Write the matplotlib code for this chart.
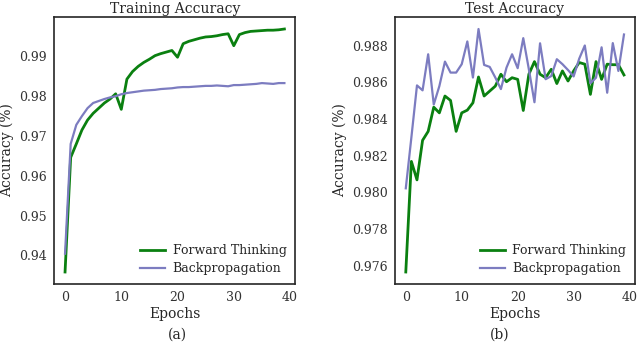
import matplotlib

matplotlib.use("Agg")

import matplotlib.pyplot as plt
import numpy as np


EPOCHS: list[int] = list(range(40))

TRAIN_FORWARD: list[float] = [
    0.9358, 0.9646, 0.9680, 0.9715, 0.9740, 0.9757, 0.9770, 0.9783, 0.9793, 0.9806,
    0.9767, 0.9843, 0.9862, 0.9875, 0.9885, 0.9893, 0.9902, 0.9907, 0.9911, 0.9915,
    0.9898, 0.9932, 0.9938, 0.9942, 0.9946, 0.9949, 0.9950, 0.9952, 0.9955, 0.9957,
    0.9927, 0.9955, 0.9960, 0.9963, 0.9964, 0.9965, 0.9966, 0.9966, 0.9967, 0.9969,
]

TRAIN_BACKPROP: list[float] = [
    0.9404, 0.9680, 0.9728, 0.9750, 0.9770, 0.9783, 0.9788, 0.9793, 0.9797, 0.9800,
    0.9805, 0.9808, 0.9810, 0.9812, 0.9814, 0.9815, 0.9816, 0.9818, 0.9819, 0.9820,
    0.9822, 0.9823, 0.9823, 0.9824, 0.9825, 0.9826, 0.9826, 0.9827, 0.9826, 0.9825,
    0.9828, 0.9828, 0.9829, 0.9830, 0.9831, 0.9833, 0.9832, 0.9831, 0.9833, 0.9833,
]

TEST_FORWARD: list[float] = [
    0.97565, 0.98169, 0.98068, 0.98284, 0.98333, 0.98465, 0.98434, 0.98526, 0.98502, 0.98333,
    0.98434, 0.98449, 0.98489, 0.98630, 0.98526, 0.98553, 0.98580, 0.98645, 0.98604, 0.98626,
    0.98617, 0.98447, 0.98645, 0.98714, 0.98645, 0.98626, 0.98672, 0.98594, 0.98663, 0.98608,
    0.98663, 0.98709, 0.98700, 0.98535, 0.98714, 0.98617, 0.98700, 0.98697, 0.98697, 0.98641,
]

TEST_BACKPROP: list[float] = [
    0.98022, 0.98300, 0.98584, 0.98557, 0.98754, 0.98480, 0.98580, 0.98714, 0.98654, 0.98654,
    0.98700, 0.98824, 0.98627, 0.98892, 0.98696, 0.98685, 0.98627, 0.98564, 0.98681, 0.98754,
    0.98678, 0.98842, 0.98672, 0.98492, 0.98814, 0.98618, 0.98635, 0.98727, 0.98700, 0.98668,
    0.98633, 0.98730, 0.98802, 0.98596, 0.98626, 0.98792, 0.98544, 0.98815, 0.98663, 0.98862,
]

FORWARD_COLOR = "#0a8010"
BACKPROP_COLOR = "#7c7cc0"


def plot_panel(ax, forward, backprop, title: str) -> None:
    ax.plot(EPOCHS, forward, color=FORWARD_COLOR, lw=2.0, label="Forward Thinking")
    ax.plot(EPOCHS, backprop, color=BACKPROP_COLOR, lw=1.6, label="Backpropagation")

    ax.set_title(title, fontsize=10, pad=3)
    ax.set_xlabel("Epochs", fontsize=10, labelpad=2)
    ax.set_ylabel("Accuracy (%)", fontsize=10, labelpad=4)
    ax.set_xticks([0, 10, 20, 30, 40])
    ax.tick_params(length=0, labelsize=9, pad=5, colors="#333333")

    for spine in ax.spines.values():
        spine.set_color("#262626")
        spine.set_linewidth(1.2)

    ax.legend(loc="lower right", frameon=False, fontsize=9,
              handlelength=2.0, handletextpad=0.6,
              borderaxespad=0.3, labelspacing=0.4)


def main() -> None:
    plt.rcParams["font.family"] = "serif"
    plt.rcParams["font.serif"] = ["DejaVu Serif"]
    plt.rcParams["text.color"] = "#262626"
    plt.rcParams["axes.labelcolor"] = "#262626"

    fig = plt.figure(figsize=(6.4, 3.44), dpi=100)
    ax_train = fig.add_axes([0.0845, 0.174, 0.377, 0.777])
    ax_test = fig.add_axes([0.617, 0.174, 0.375, 0.777])

    plot_panel(ax_train, TRAIN_FORWARD, TRAIN_BACKPROP, "Training Accuracy")
    plot_panel(ax_test, TEST_FORWARD, TEST_BACKPROP, "Test Accuracy")

    ax_train.set_yticks(np.arange(0.94, 0.995, 0.01))
    ax_test.set_yticks(np.arange(0.976, 0.9885, 0.002))
    ax_train.yaxis.set_major_formatter(plt.FormatStrFormatter("%.2f"))
    ax_test.yaxis.set_major_formatter(plt.FormatStrFormatter("%.3f"))

    fig.text(0.277, 0.026, "(a)", ha="center", va="center", fontsize=10)
    fig.text(0.781, 0.026, "(b)", ha="center", va="center", fontsize=10)

    fig.savefig("out.png", dpi=100)


if __name__ == "__main__":
    main()
